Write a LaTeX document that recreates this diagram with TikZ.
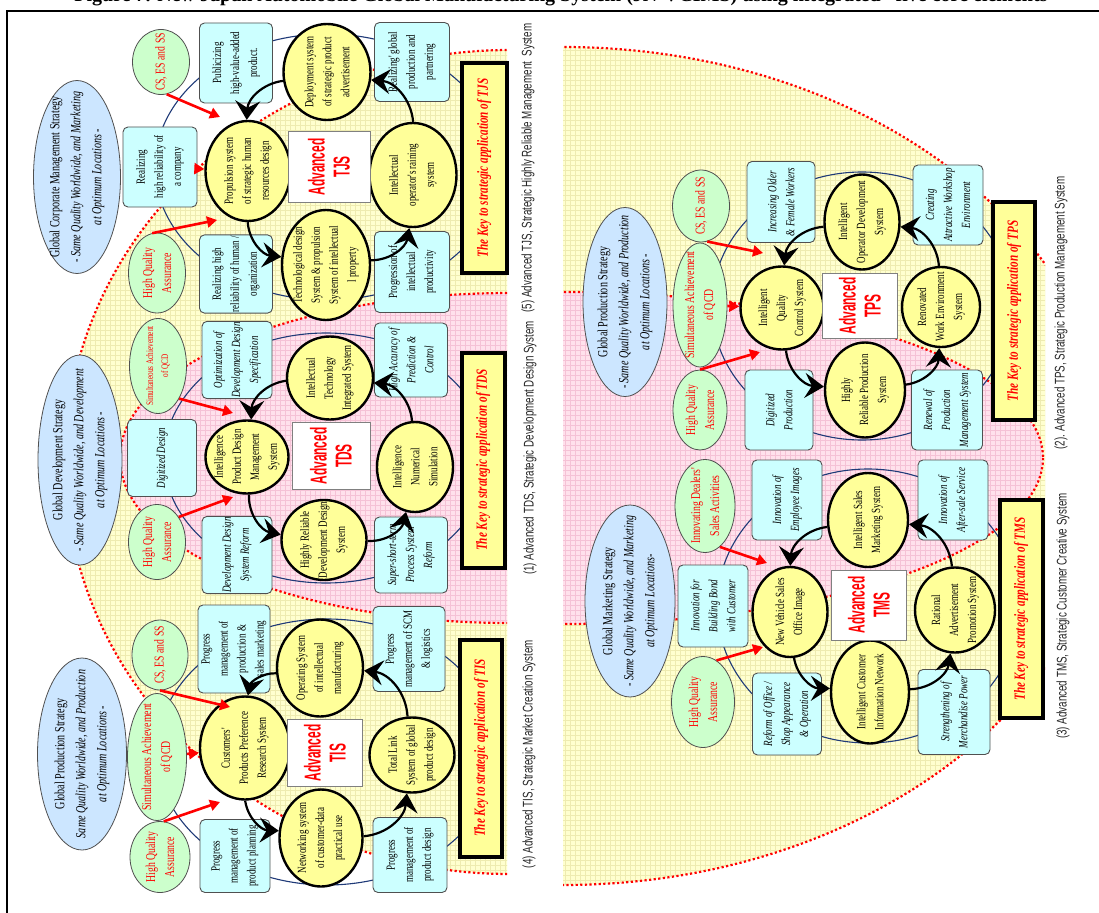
\documentclass[tikz,border=0pt]{standalone}
\usepackage{fontspec}
\setmainfont{Liberation Serif}
\newfontfamily\cserif[FakeStretch=0.72]{Liberation Serif}
\newfontfamily\advsans[FakeStretch=0.52]{Liberation Sans}
\newfontfamily\capsans[FakeStretch=0.7]{Liberation Sans}
\usetikzlibrary{shapes.geometric,arrows.meta}
\definecolor{boxcyan}{HTML}{CCFFFF}
\definecolor{cycfill}{HTML}{FFFF99}
\definecolor{greenfill}{HTML}{CCFFCC}
\definecolor{bluefill}{HTML}{CCE6FF}
\definecolor{ringblue}{HTML}{1F3A78}
\definecolor{bgyellow}{HTML}{FFFFCF}
\definecolor{gridyellow}{HTML}{EEEBB0}
\definecolor{bgpink}{HTML}{FFE1EC}
\definecolor{gridpink}{HTML}{F5C2D6}
\definecolor{edgegray}{HTML}{505050}
\tikzset{
  sz/.style 2 args={minimum width=#2, minimum height=#1},
  cyc/.style={ellipse, draw=black, line width=2.4pt, fill=cycfill, rotate=90, align=center,
    inner sep=-20pt, font=\cserif\fontsize{12.5}{18}\selectfont},
  box/.style={rectangle, rounded corners=5pt, draw=edgegray, line width=0.9pt, fill=boxcyan,
    rotate=90, align=center, inner sep=1pt, font=\cserif\fontsize{12.5}{18}\selectfont},
  ibox/.style={box, font=\cserif\itshape\fontsize{12.5}{18}\selectfont},
  goal/.style={ellipse, draw=edgegray, line width=0.8pt, fill=greenfill, text=red, rotate=90,
    align=center, inner sep=-20pt, font=\cserif\fontsize{13.5}{19}\selectfont},
  strat/.style={ellipse, draw=edgegray, line width=0.8pt, fill=bluefill, rotate=90,
    align=center, inner sep=-30pt, font=\cserif\fontsize{14}{21}\selectfont},
  adv/.style={rectangle, draw=gray, line width=1pt, fill=white, text=red, rotate=90,
    align=center, inner sep=0pt, font=\advsans\bfseries\fontsize{23}{25}\selectfont},
  keybox/.style={rectangle, draw=black, line width=4pt, fill=cycfill, text=red, rotate=90,
    inner sep=0pt, font=\cserif\bfseries\itshape\fontsize{15.5}{18}\selectfont},
  ring/.style={draw=ringblue, line width=1.1pt},
  flow/.style={draw=black, line width=2.2pt, -{Stealth[length=19pt,width=25pt,inset=7pt]}},
  push/.style={draw=red, line width=2.6pt, -{Triangle[length=10pt,width=11pt]}},
  caption/.style={rotate=90, font=\capsans\fontsize{14}{16}\selectfont, text=black!85},
  rim/.style={draw=red, line width=2.2pt, dash pattern=on 2.2pt off 2.4pt},
}
\begin{document}
\begin{tikzpicture}[x=1pt,y=-1pt]
\useasboundingbox (0,0) rectangle (1099,912);
\fill[white] (0,0) rectangle (1099,912);

% ---------- left half background ----------
\begin{scope}
  \clip (0,0) rectangle (507,912);
  \fill[bgyellow] (510,462) ellipse [x radius=445, y radius=412];
  \begin{scope}
    \clip (510,462) ellipse [x radius=445, y radius=412];
    \draw[gridyellow, line width=0.35pt, step=5pt] (60,890) grid (510,40);
  \end{scope}
  \fill[bgpink] (510,458) ellipse [x radius=390, y radius=165];
  \begin{scope}
    \clip (510,458) ellipse [x radius=390, y radius=165];
    \draw[gridpink, line width=0.35pt, step=5pt] (110,630) grid (510,285);
  \end{scope}
  \draw[rim] (510,462) ellipse [x radius=445, y radius=412];
  \draw[rim] (510,458) ellipse [x radius=390, y radius=165];
\end{scope}

% ---------- right half background ----------
\begin{scope}
  \clip (563,0) rectangle (1045,912);
  \fill[bgyellow] (563,466) ellipse [x radius=550, y radius=419];
  \begin{scope}
    \clip (563,466) ellipse [x radius=550, y radius=419];
    \draw[gridyellow, line width=0.35pt, step=5pt] (560,890) grid (1050,40);
  \end{scope}
  \fill[bgpink] (563,458) ellipse [x radius=480, y radius=166];
  \begin{scope}
    \clip (563,458) ellipse [x radius=480, y radius=166];
    \draw[gridpink, line width=0.35pt, step=5pt] (560,630) grid (1050,285);
  \end{scope}
  \draw[rim] (563,466) ellipse [x radius=550, y radius=419];
  \draw[rim] (563,458) ellipse [x radius=480, y radius=166];
\end{scope}

% frame and heading
\draw[line width=1.4pt] (1110,11) -- (7,11) -- (7,925);
\node[font=\bfseries\fontsize{20}{20}\selectfont, anchor=base] (title) at (566,1.5)
  {Figure 7. New Japan Automobile Global Manufacturing System (JN-VCIMS) using integrated ``five core elements''};

% captions
\node[caption] (capj) at (528,168) {(5) Advanced TJS, Strategic Highly Reliable Management\ \ System};
\node[caption] (capd) at (530,448) {(1) Advanced TDS, Strategic Development Design System};
\node[caption] (capi) at (529,754) {(4) Advanced TIS, Strategic Market Creation System};
\node[caption] (capp) at (1061,313) {(2). Advanced TPS, Strategic Production Management System};
\node[caption] (capm) at (1063,616) {(3) Advanced TMS, Strategic Customer Creative System};

% ================= TJS =================
\draw[ring] (327,167) ellipse [x radius=172, y radius=133];
\node[strat, sz={87}{193}] (jstrat) at (77,177) {Global Corporate Management Strategy\\\itshape - Same Quality Worldwide, and Marketing\\\itshape at Optimum Locations -};
\node[goal, sz={57}{65}] (jcs) at (161,62) {CS, ES and SS};
\node[goal, sz={57}{80}] (jhq) at (157,273) {High Quality\\Assurance};
\node[box, sz={73}{80}] (jpub) at (236,63) {Publicizing\\high-value-added\\product.};
\node[box, sz={74}{80}] (jcom) at (160,167) {Realizing\\high reliability of\\a company};
\node[box, sz={73}{78}] (jhum) at (236,274) {Realizing high\\reliability of human /\\organization};
\node[box, sz={75}{79}] (jglo) at (412,62) {Realizing' global\\production and\\partnering};
\node[box, sz={75}{81}] (jpro) at (412,272) {Progression of\\intellectual\\productivity};
\node[cyc, sz={85}{100}] (jc1) at (248,171) {Propulsion system\\of strategic human\\resources design};
\node[cyc, sz={88}{110}] (jc2) at (326,265) {Technological design\\System \& propulsion\\System of intellectual\\l property};
\node[cyc, sz={87}{104}] (jc3) at (413,175) {Intellectual\\operator's raining\\system};
\node[cyc, sz={87}{96}] (jc4) at (327,72) {Deployment system\\of strategic product\\advertisement};
\node[adv, sz={82}{71}] (jadv) at (329,167) {Advanced\\TJS};
\node[keybox, sz={45}{210}] (jkey) at (484,168) {The Key to strategic application of TJS};
\draw[flow] (jc1) to[bend right=40] (jc2);
\draw[flow] (jc2) to[bend right=40] (jc3);
\draw[flow] (jc3) to[bend right=40] (jc4);
\draw[flow] (jc4) to[bend right=40] (jc1);
\coordinate (jcsT) at (220,117);
\coordinate (jhqT) at (217,220);
\draw[push] (jcs.190) -- (jcsT);
\draw[push] (jhq.7) -- (jhqT);
\draw[push] (jcom) -- (jc1);

% ================= TDS =================
\draw[ring] (326,458) ellipse [x radius=162, y radius=125];
\node[strat, sz={84}{210}] (dstrat) at (80,460) {Global Development Strategy\\\itshape - Same Quality Worldwide, and Development\\\itshape at Optimum Locations -};
\node[goal, sz={57}{95}, font=\cserif\fontsize{10}{15}\selectfont] (dqcd) at (158,366) {Simultaneous Achievement\\of QCD};
\node[goal, sz={57}{75}] (dhq) at (157,542) {High Quality\\Assurance};
\node[ibox, sz={69}{77}] (ddig) at (162,458) {Digitized Design};
\node[ibox, sz={70}{74}] (dopt) at (237,360) {Optimization of\\Development Design\\Specification};
\node[ibox, sz={73}{74}] (dacc) at (411,360) {High Accuracy of\\Prediction \&\\Control};
\node[ibox, sz={70}{76}] (dref) at (237,555) {Development Design\\System Reform};
\node[ibox, sz={73}{76}] (dsup) at (411,555) {Super-short-term\\Process System\\Reform};
\node[cyc, sz={83}{73}] (dc1) at (247,457) {Intelligence\\Product Design\\Management\\System};
\node[cyc, sz={85}{80}] (dc2) at (324,540) {Highly Reliable\\Development Design\\System};
\node[cyc, sz={76}{90}] (dc3) at (415,467) {Intelligence\\Numerical\\Simulation};
\node[cyc, sz={86}{83}] (dc4) at (330,378) {Intellectual\\Technology\\Integrated System};
\node[adv, sz={78}{67}] (dadv) at (331,456) {Advanced\\TDS};
\node[keybox, sz={43}{215}] (dkey) at (483,460) {The Key to strategic application of TDS};
\draw[flow] (dc1) to[bend right=40] (dc2);
\draw[flow] (dc2) to[bend right=40] (dc3);
\draw[flow] (dc3) to[bend right=40] (dc4);
\draw[flow] (dc4) to[bend right=40] (dc1);
\coordinate (dqcdT) at (233,413);
\coordinate (dhqT) at (233,497);
\draw[push] (dqcd.213) -- (dqcdT);
\draw[push] (dhq.319) -- (dhqT);

% ================= TIS =================
\draw[ring] (327,752) ellipse [x radius=170, y radius=133];
\node[strat, sz={89}{192}] (istrat) at (82,754) {Global Production Strategy\\\itshape Same Quality Worldwide, and Production\\\itshape at Optimum Locations -};
\node[goal, sz={56}{70}] (ics) at (160,655) {CS, ES and SS};
\node[goal, sz={59}{127}] (iqcd) at (157,757) {Simultaneous Achievement\\of QCD};
\node[goal, sz={60}{71}] (ihq) at (160,857) {High Quality\\Assurance};
\node[box, sz={72}{88}] (ips) at (234,649) {Progress\\management of\\production \&\\sales marketing};
\node[box, sz={70}{73}] (ipp) at (235,856) {Progress\\management of\\product planning};
\node[box, sz={72}{85}] (iscm) at (409,649) {Progress\\management of SCM\\\& logistics};
\node[box, sz={74}{75}] (ipd) at (410,855) {Progress\\management of\\product design};
\node[cyc, sz={90}{103}] (ic1) at (245,748) {Customers'\\Products Preference\\Research System};
\node[cyc, sz={83}{97}] (ic2) at (321,838) {Networking system\\of customer-data\\practical use};
\node[cyc, sz={85}{75}] (ic3) at (412,755) {Total Link\\System of global\\product design};
\node[cyc, sz={86}{97}] (ic4) at (320,668) {Operating System\\of intellectual\\manufacturing};
\node[adv, sz={75}{67}] (iadv) at (325,753) {Advanced\\TIS};
\node[keybox, sz={42}{217}] (ikey) at (481,748) {The Key to strategic application of TIS};
\draw[flow] (ic1) to[bend right=40] (ic2);
\draw[flow] (ic2) to[bend right=40] (ic3);
\draw[flow] (ic3) to[bend right=40] (ic4);
\draw[flow] (ic4) to[bend right=40] (ic1);
\coordinate (icsT) at (230,707);
\coordinate (ihqT) at (220,802);
\draw[push] (ics.180) -- (icsT);
\draw[push] (iqcd) -- (ic1);
\draw[push] (ihq.354) -- (ihqT);

% ================= TPS =================
\draw[ring] (862,306) ellipse [x radius=150, y radius=134];
\node[strat, sz={84}{189}] (pstrat) at (625,302) {Global Production Strategy\\\itshape - Same Quality Worldwide, and Production\\\itshape at Optimum Locations -};
\node[goal, sz={57}{72}] (pcs) at (701,206) {CS, ES and SS};
\node[goal, sz={54}{124}] (pqcd) at (700,305) {Simultaneous Achievement\\of QCD};
\node[goal, sz={54}{80}] (phq) at (700,410) {High Quality\\Assurance};
\node[ibox, sz={68}{81}] (pold) at (781,202) {Increasing Older\\\& Female Workers};
\node[ibox, sz={70}{80}] (pwork) at (948,205) {Creating\\Attractive Workshop\\Environment};
\node[ibox, sz={68}{80}] (pdig) at (779,410) {Digitized\\Production};
\node[ibox, sz={71}{80}] (pren) at (947,410) {Renewal of\\Production\\Management System};
\node[cyc, sz={83}{83}] (pc1) at (782,308) {Intelligent\\Quality\\Control System};
\node[cyc, sz={80}{95}] (pc2) at (865,390) {Highly\\Reliable Production\\System};
\node[cyc, sz={78}{80}] (pc3) at (941,307) {Renovated\\Work Environment\\System};
\node[cyc, sz={75}{95}] (pc4) at (862,222) {Intelligent\\Operator Development\\System};
\node[adv, sz={75}{65}] (padv) at (860,306) {Advanced\\TPS};
\node[keybox, sz={42}{218}] (pkey) at (1014,311) {The Key to strategic application of TPS};
\draw[flow] (pc1) to[bend right=40] (pc2);
\draw[flow] (pc2) to[bend right=40] (pc3);
\draw[flow] (pc3) to[bend right=40] (pc4);
\draw[flow] (pc4) to[bend right=40] (pc1);
\coordinate (pcsT) at (763,253);
\coordinate (phqT) at (760,352);
\draw[push] (pcs.190) -- (pcsT);
\draw[push] (pqcd) -- (pc1);
\draw[push] (phq.0) -- (phqT);

% ================= TMS =================
\draw[ring] (868,606) ellipse [x radius=151, y radius=137];
\node[strat, sz={90}{192}] (mstrat) at (630,601) {Global Marketing Strategy\\\itshape - Same Quality Worldwide, and Marketing\\\itshape at Optimum Locations-};
\node[goal, sz={60}{93}] (mdeal) at (705,506) {Innovating Dealers'\\Sales Activities};
\node[goal, sz={63}{91}] (mhq) at (703,702) {High Quality\\Assurance};
\node[ibox, sz={70}{82}] (mbond) at (713,606) {Innovation for\\Building Bond\\with Customer};
\node[ibox, sz={69}{82}] (moff) at (787,714) {Reform of Office /\\Shop Appearance\\\& Operation};
\node[ibox, sz={70}{80}] (memp) at (787,500) {Innovation of\\Employee Images};
\node[ibox, sz={70}{80}] (maft) at (953,500) {Innovation of\\After-sale Service};
\node[ibox, sz={72}{85}] (mmer) at (954,712) {Strengthening of\\Merchandise Power};
\node[cyc, sz={75}{90}] (mc1) at (790,612) {New Vehicle Sales\\Office Image};
\node[cyc, sz={78}{103}] (mc2) at (870,692) {Intelligent Customer\\Information Network};
\node[cyc, sz={80}{85}] (mc3) at (955,610) {Rational\\Advertisement\\Promotion System};
\node[cyc, sz={80}{94}] (mc4) at (868,520) {Intelligent Sales\\Marketing System};
\node[adv, sz={75}{70}] (madv) at (869,605) {Advanced\\TMS};
\node[keybox, sz={43}{218}] (mkey) at (1021,609) {The Key to strategic application of TMS};
\draw[flow] (mc1) to[bend right=40] (mc2);
\draw[flow] (mc2) to[bend right=40] (mc3);
\draw[flow] (mc3) to[bend right=40] (mc4);
\draw[flow] (mc4) to[bend right=40] (mc1);
\coordinate (mdealT) at (767,563);
\coordinate (mhqT) at (763,647);
\draw[push] (mdeal.200) -- (mdealT);
\draw[push] (mhq.342) -- (mhqT);
\end{tikzpicture}
\end{document}
